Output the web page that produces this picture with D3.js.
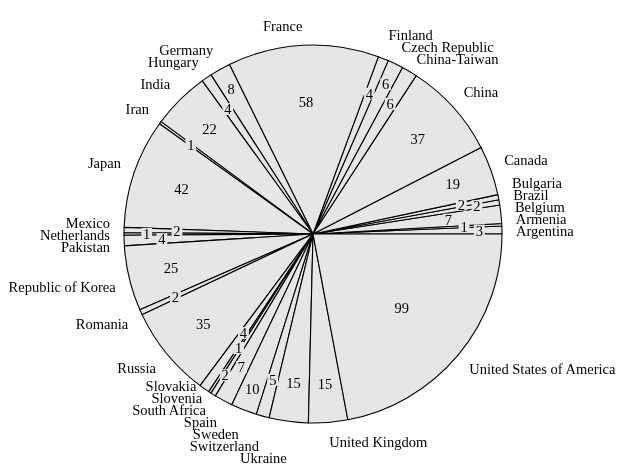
<!DOCTYPE html>
<html>
<head>
<meta charset="utf-8">
<script src="https://cdn.jsdelivr.net/npm/d3@7"></script>
<style>
  body { margin: 0; background: #fff; }
  svg text { font-family: "Liberation Serif", "Times New Roman", serif; font-size: 14.5px; fill: #000; }
</style>
</head>
<body>
<div id="chart"></div>
<script>
// participants per country
const countries = ["Argentina", "Armenia", "Belgium", "Brazil", "Bulgaria", "Canada", "China", "China-Taiwan",
  "Czech Republic", "Finland", "France", "Germany", "Hungary", "India", "Iran", "Japan", "Mexico", "Netherlands",
  "Pakistan", "Republic of Korea", "Romania", "Russia", "Slovakia", "Slovenia", "South Africa", "Spain", "Sweden",
  "Switzerland", "Ukraine", "United Kingdom", "United States of America"];
const counts = [3, 1, 7, 2, 2, 19, 37, 6, 6, 4, 58, 8, 4, 22, 1, 42, 2, 1, 4, 25, 2, 35, 4, 1, 2, 7, 10, 5, 15, 15, 99];

const WIDTH = 626;
const HEIGHT = 471;
const CX = 313;
const CY = 234;
const R = 189;
const FILL = "#e6e6e6";

const svg = d3.select("#chart").append("svg").attr("width", WIDTH).attr("height", HEIGHT);
const g = svg.append("g").attr("transform", `translate(${CX},${CY})`);

// start at 3 o'clock, go counter-clockwise
const pie = d3.pie().sort(null).value((d) => d).startAngle(Math.PI / 2).endAngle(Math.PI / 2 - 2 * Math.PI);
const arcs = pie(counts);
const arc = d3.arc().innerRadius(0).outerRadius(R);

g.append("g")
  .selectAll("path")
  .data(arcs)
  .join("path")
  .attr("d", arc)
  .attr("fill", FILL)
  .attr("stroke", "#000")
  .attr("stroke-width", 1.1)
  .attr("stroke-linejoin", "round");

const mid = (d) => (d.startAngle + d.endAngle) / 2;
const spanDeg = (d) => (Math.abs(d.endAngle - d.startAngle) * 180) / Math.PI;
const polar = (a, r) => [Math.sin(a) * r, -Math.cos(a) * r];

// ---- value labels (inside) ----
const valueLabels = arcs.map((d, i) => {
  const base = 0.8 + Math.min((-(spanDeg(d) - 10) / 110) * 0.3, 0);
  const digits = String(d.value).length;
  return { i, d, base, t: base, hw: 3.6 * digits + 2.8, hh: 7 };
});

const placed = [];
const hit = (a, b) => Math.abs(a.x - b.x) < a.hw + b.hw && Math.abs(a.y - b.y) < a.hh + b.hh;
const steps = [0, 0.08, -0.08, -0.16, -0.24, -0.32, 0.16];
for (let k = valueLabels.length - 1; k >= 0; k--) {
  const lab = valueLabels[k];
  for (const s of steps) {
    const [x, y] = polar(mid(lab.d), R * (lab.base + s));
    Object.assign(lab, { x, y, t: lab.base + s });
    if (!placed.some((p) => hit(lab, p))) break;
  }
  if (lab.t !== lab.base && placed.some((p) => hit(lab, p))) {
    const [x, y] = polar(mid(lab.d), R * lab.base);
    Object.assign(lab, { x, y, t: lab.base });
  }
  placed.push(lab);
}

const vg = g.append("g").style("opacity", 0.999)
  .selectAll("g").data(valueLabels).join("g")
  .attr("transform", (d) => `translate(${d.x},${d.y})`);
vg.append("rect")
  .attr("x", (d) => -d.hw + 1)
  .attr("y", (d) => -d.hh + 1)
  .attr("width", (d) => 2 * d.hw - 2)
  .attr("height", (d) => 2 * d.hh - 2)
  .attr("fill", FILL);
vg.append("text")
  .attr("text-anchor", "middle")
  .attr("dominant-baseline", "central")
  .text((d) => d.d.value);

// ---- country labels (outside) ----
const names = g.append("g").selectAll("text").data(arcs).join("text")
  .attr("text-anchor", "middle")
  .attr("dominant-baseline", "central")
  .text((d, i) => countries[i]);

const HH = 5.6;
const outer = [];
names.each(function (d, i) {
  const w = this.getComputedTextLength();
  const a = mid(d);
  const [px, py] = polar(a, R + 14);
  const sx = Math.round(Math.sin(a) * 1e6) / 1e6; // >0 right side
  const sy = Math.round(-Math.cos(a) * 1e6) / 1e6; // >0 lower half
  // corner of the text box that faces the pie sits on the ring
  const x = px + Math.sign(sx) * (w / 2);
  const y = py + Math.sign(sy) * HH;
  // order from top to bottom on each side
  let theta = (90 - (a * 180) / Math.PI) % 360;
  if (theta < 0) theta += 360;
  const right = sx > 0;
  const key = right ? -(theta > 180 ? theta - 360 : theta) : theta;
  outer.push({ x, y, hw: w / 2 + 1, hh: 6, right, key });
});

// spread colliding labels vertically, keeping their order
for (let it = 0; it < 600; it++) {
  for (let a = 0; a < outer.length; a++) {
    for (let b = a + 1; b < outer.length; b++) {
      const p = outer[a];
      const q = outer[b];
      if (Math.abs(q.x - p.x) >= p.hw + q.hw) continue;
      const sgn = p.right === q.right ? Math.sign(q.key - p.key) : Math.sign(q.y - p.y) || 1;
      const oy = p.hh + q.hh - sgn * (q.y - p.y);
      if (oy > 0) {
        p.y -= (sgn * oy) / 2;
        q.y += (sgn * oy) / 2;
      }
    }
  }
}

names.attr("x", (d, i) => outer[i].x).attr("y", (d, i) => outer[i].y);
</script>
</body>
</html>
